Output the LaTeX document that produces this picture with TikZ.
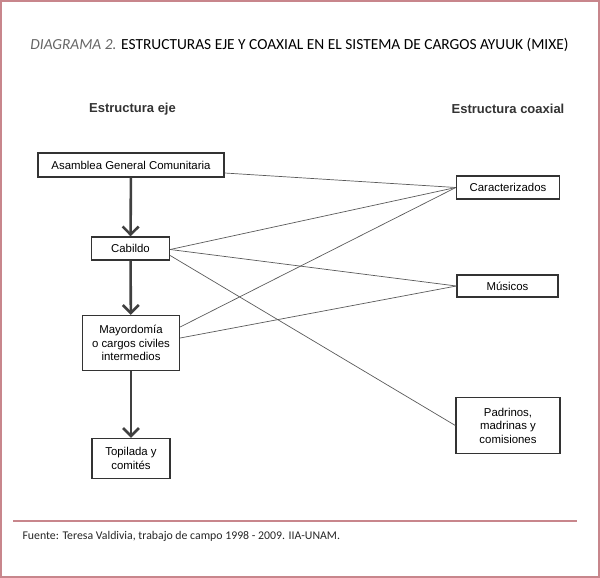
\documentclass[tikz,border=0pt]{standalone}
\usepackage{fontspec}
\setmainfont{Liberation Sans}
\newfontfamily\titlefont{Carlito}
\usetikzlibrary{arrows.meta, calc}

\definecolor{frame}{HTML}{C8868C}
\definecolor{boxline}{HTML}{333333}
\definecolor{link}{HTML}{5A5A5A}

\begin{document}
\begin{tikzpicture}[
    x=1pt, y=-1pt,
    cargo/.style={rectangle, draw=boxline, line width=1.3pt, align=center, font=\fontsize{11.4}{13.5}\selectfont, inner sep=0pt},
    header/.style={font=\fontsize{13}{15}\selectfont\bfseries, text=black!80},
    axis/.style={draw=black!75, line width=2.6pt, -{Straight Barb[length=8pt,width=16pt]}},
    link/.style={draw=link, line width=0.7pt}
]
\useasboundingbox (0,0) rectangle (600,578);
% Frame
\draw[frame, line width=2pt] (1,1) rectangle (598.5,577);

% Title
\node[font=\titlefont\fontsize{15.4}{18}\selectfont] (title) at (299.5,45)
  {{\color{black!60}\itshape DIAGRAMA 2.} ESTRUCTURAS EJE Y COAXIAL EN EL SISTEMA DE CARGOS AYUUK (MIXE)};

% Headers
\node[header] (heje) at (132.5,109) {Estructura eje};
\node[header] (hcoax) at (508,109) {Estructura coaxial};

% Estructura eje
\node[cargo, minimum width=186pt, minimum height=24pt] (asam) at (131,165) {Asamblea General Comunitaria};
\node[cargo, minimum width=78pt, minimum height=23pt] (cab) at (130.5,248.5) {Cabildo};
\node[cargo, minimum width=97pt, minimum height=55pt] (mayor) at (131,343) {Mayordomía\\o cargos civiles\\intermedios};
\node[cargo, minimum width=78pt, minimum height=40pt] (topi) at (131,458.5) {Topilada y\\comités};

% Estructura coaxial
\node[cargo, minimum width=103pt, minimum height=23pt] (carac) at (508,187.5) {Caracterizados};
\node[cargo, minimum width=101pt, minimum height=22pt] (musi) at (507.5,286) {Músicos};
\node[cargo, minimum width=104pt, minimum height=56pt] (padr) at (508,425.5) {Padrinos,\\madrinas y\\comisiones};

% Eje
\draw[axis] (asam) -- (cab);
\draw[axis] (cab) -- (mayor);
\draw[axis] (mayor) -- (topi);

% Coaxial connections
\draw[link] ([yshift=-8pt]asam.east) -- (carac.west);
\draw[link] ([yshift=-1pt]cab.east) -- (carac.west);
\draw[link] ([yshift=-1pt]cab.east) -- (musi.west);
\draw[link] ([yshift=-7pt]cab.east) -- (padr.west);
\draw[link] ([yshift=16pt]mayor.east) -- (carac.west);
\draw[link] ([yshift=5pt]mayor.east) -- (musi.west);

% Footer
\draw[frame, line width=1.2pt] (13,521) -- (577,521) coordinate (rule);
\node[anchor=west, font=\titlefont\fontsize{11.8}{14}\selectfont, text=black!85] (src) at (19,536.5)
  {Fuente: Teresa Valdivia, trabajo de campo 1998 - 2009. IIA-UNAM.};
\end{tikzpicture}
\end{document}
